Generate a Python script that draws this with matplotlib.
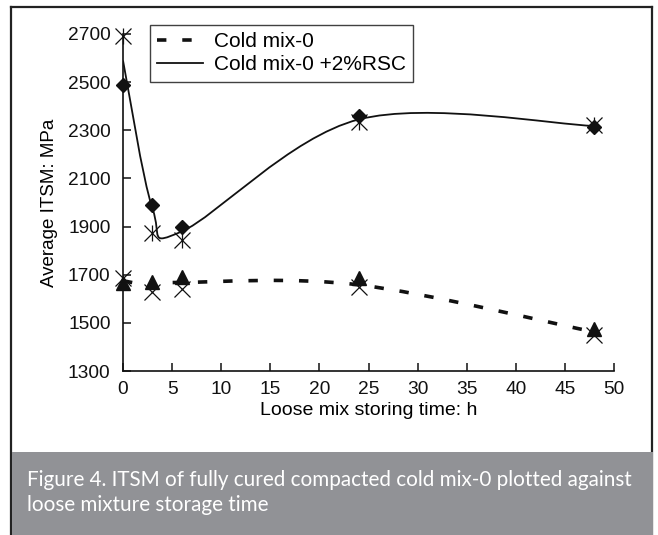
import matplotlib
matplotlib.use("Agg")
import matplotlib.pyplot as plt
from matplotlib.path import Path
from matplotlib.patches import PathPatch, Rectangle
from matplotlib.lines import Line2D

# storing time (h)
hours = [0, 3, 6, 24, 48]

# Cold mix-0 +2%RSC
rsc_diamond = [2490, 1990, 1900, 2360, 2315]
rsc_star = [2690, 1875, 1845, 2335, 2320]
rsc_line = [2590, 1975, 1880, 2345, 2318]

# Cold mix-0
cold_triangle = [1665, 1670, 1690, 1686, 1474]
cold_x = [1686, 1628, 1640, 1650, 1450]
cold_line = [1675, 1655, 1668, 1658, 1462]

x_ticks = [0, 5, 10, 15, 20, 25, 30, 35, 40, 45, 50]
y_ticks = [1300, 1500, 1700, 1900, 2100, 2300, 2500, 2700]

caption = ("Figure 4. ITSM of fully cured compacted cold mix-0 plotted against\n"
           "loose mixture storage time")


def smooth_path(xs, ys):
    # spreadsheet-style smoothed line: cubic bezier through the points
    pts = list(zip(xs, ys))
    n = len(pts)
    verts = [pts[0]]
    codes = [Path.MOVETO]
    for i in range(n - 1):
        p0 = pts[i - 1] if i > 0 else pts[i]
        p1 = pts[i]
        p2 = pts[i + 1]
        p3 = pts[i + 2] if i + 2 < n else pts[i + 1]
        c1 = (p1[0] + (p2[0] - p0[0]) / 6, p1[1] + (p2[1] - p0[1]) / 6)
        c2 = (p2[0] - (p3[0] - p1[0]) / 6, p2[1] - (p3[1] - p1[1]) / 6)
        verts += [c1, c2, p2]
        codes += [Path.CURVE4] * 3
    return Path(verts, codes)


plt.rcParams["font.family"] = ["Liberation Sans", "DejaVu Sans"]

fig = plt.figure(figsize=(6.58, 5.35), dpi=100)
ax = fig.add_axes([123 / 658, 1 - 371 / 535, 491 / 658, 337 / 535])

dash = (0, (2.6, 4.4))
ax.add_patch(PathPatch(smooth_path(hours, cold_line), fill=False,
                       edgecolor="#111111", lw=2.6, linestyle=dash,
                       capstyle="butt"))
ax.add_patch(PathPatch(smooth_path(hours, rsc_line), fill=False,
                       edgecolor="#111111", lw=1.3))

mk = dict(linestyle="none", color="#111111", clip_on=False, zorder=3)
ax.plot(hours, rsc_diamond, marker="D", markersize=7.5, **mk)
ax.plot(hours, rsc_star, marker="x", markersize=12, markeredgewidth=0.9, **mk)
ax.plot(hours, rsc_star, marker="|", markersize=12, markeredgewidth=0.9, **mk)
ax.plot(hours, cold_triangle, marker="^", markersize=10, **mk)
ax.plot(hours, cold_x, marker="x", markersize=12, markeredgewidth=0.9, **mk)

ax.set_xlim(0, 50)
ax.set_ylim(1300, 2700)
ax.set_xticks(x_ticks)
ax.set_yticks(y_ticks)
ax.tick_params(direction="in", length=6, width=1.1, labelsize=13.8,
               colors="#111111")
ax.tick_params(axis="y", pad=9)
ax.tick_params(axis="x", pad=7)
for s in ["top", "right"]:
    ax.spines[s].set_visible(False)
for s in ["left", "bottom"]:
    ax.spines[s].set_linewidth(1.2)
    ax.spines[s].set_color("#111111")

ax.set_xlabel("Loose mix storing time: h", fontsize=14, labelpad=3)
ax.set_ylabel("Average ITSM: MPa", fontsize=13.5, labelpad=7)

handles = [Line2D([], [], color="#111111", lw=2.6, linestyle=dash),
           Line2D([], [], color="#111111", lw=1.3)]
leg = fig.legend(handles, ["Cold mix-0", "Cold mix-0 +2%RSC"],
                 loc="upper left", bbox_to_anchor=(150 / 658, 1 - 25 / 535),
                 fontsize=15, frameon=True, fancybox=False, handlelength=2.2,
                 handletextpad=0.5, labelspacing=0.2, borderpad=0.35,
                 borderaxespad=0)
leg.get_frame().set_edgecolor("#111111")
leg.get_frame().set_linewidth(1.0)

# outer frame and caption band
W, H = 658, 535
frame = dict(color="#222222", lw=1.6, transform=fig.transFigure)
fig.add_artist(Line2D([11 / W, 11 / W], [0, 1 - 7 / H], **frame))
fig.add_artist(Line2D([11 / W, 652 / W], [1 - 7 / H, 1 - 7 / H], **frame))
fig.add_artist(Line2D([652 / W, 652 / W], [0, 1 - 7 / H], **frame))
fig.add_artist(Rectangle((12 / W, 0), 641 / W, 83 / H, transform=fig.transFigure,
                         facecolor="#919296", edgecolor="none", zorder=5))
fig.text(27 / W, 1 - 470 / H, caption, color="white", fontsize=14.9,
         family=["Lato", "DejaVu Sans"], va="top", ha="left",
         linespacing=1.3, zorder=6)

fig.savefig("out.png", dpi=100)
